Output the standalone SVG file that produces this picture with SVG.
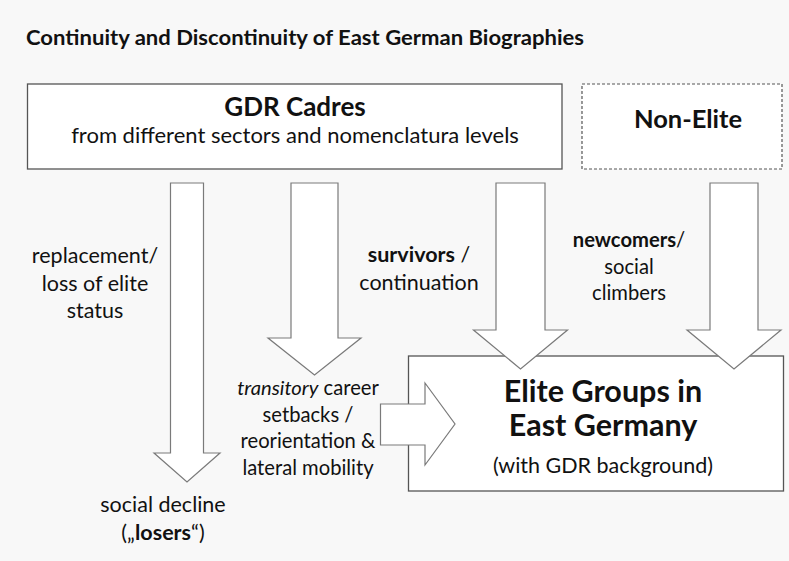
<svg xmlns="http://www.w3.org/2000/svg" width="789" height="561" viewBox="0 0 789 561">
<style>
.t{font-family:Lato,"Open Sans","Liberation Sans",sans-serif;fill:#111}
.b{font-weight:bold}
.box{fill:#fff;stroke:#555;stroke-width:1.3}
.dash{fill:#fff;stroke:#555;stroke-width:1.2;stroke-dasharray:3 2}
.arr{fill:#fff;stroke:#7a7a7a;stroke-width:1.2;stroke-linejoin:miter}
.lab{font-size:21.5px}
.lab2{font-size:20.2px}
</style>
<rect width="789" height="561" fill="#f8f8f8"/>
<text class="t b" x="26" y="45" font-size="20" textLength="558" lengthAdjust="spacingAndGlyphs">Continuity and Discontinuity of East German Biographies</text>
<g id="gdr-cadres">
<rect class="box" x="27.5" y="84" width="534.5" height="85"/>
<text class="t b" x="295" y="116" font-size="26" text-anchor="middle">GDR Cadres</text>
<text class="t" x="295" y="143" font-size="22" text-anchor="middle">from different sectors and nomenclatura levels</text>
</g>
<g id="non-elite">
<rect class="dash" x="582" y="84" width="200" height="85"/>
<text class="t b" x="688" y="128" font-size="25.5" text-anchor="middle">Non-Elite</text>
</g>
<g id="elite-groups">
<rect class="box" x="408.5" y="356" width="375" height="135"/>
<text class="t b" x="603" y="402" font-size="30.5" text-anchor="middle">Elite Groups in</text>
<text class="t b" x="603" y="436" font-size="30.5" text-anchor="middle">East Germany</text>
<text class="t" x="603" y="473" font-size="21.5" text-anchor="middle">(with GDR background)</text>
</g>
<g id="connectors">
<polygon class="arr" points="170.5,183 203.5,183 203.5,453 220,453 187,482 154,453 170.5,453"/>
<polygon class="arr" points="291,183 338,183 338,338 361,338 314.5,375 268,338 291,338"/>
<polygon class="arr" points="496,183 545,183 545,330 567.5,330 520.5,369 473.5,330 496,330"/>
<polygon class="arr" points="710,183 758,183 758,330 781,330 734,369 687,330 710,330"/>
<polygon class="arr" points="380.5,404 425,404 425,383 455,424 425,465 425,445 380.5,445"/>
</g>
<g id="labels">
<text class="t lab" text-anchor="middle"><tspan x="95" y="263">replacement/</tspan><tspan x="95" y="291">loss of elite</tspan><tspan x="95" y="318">status</tspan></text>
<text class="t lab" text-anchor="middle"><tspan x="163" y="512">social decline</tspan><tspan x="163" y="540">(„<tspan class="b">losers</tspan>“)</tspan></text>
<text class="t lab2" text-anchor="middle"><tspan x="308" y="395"><tspan font-style="italic">transitory</tspan> career</tspan><tspan x="308" y="422">setbacks /</tspan><tspan x="308" y="448">reorientation &amp;</tspan><tspan x="308" y="475">lateral mobility</tspan></text>
<text class="t lab" text-anchor="middle"><tspan x="419" y="262"><tspan class="b">survivors</tspan> /</tspan><tspan x="419" y="290">continuation</tspan></text>
<text class="t lab2" text-anchor="middle"><tspan x="629" y="247"><tspan class="b">newcomers</tspan>/</tspan><tspan x="629" y="274">social</tspan><tspan x="629" y="300">climbers</tspan></text>
</g>
</svg>
